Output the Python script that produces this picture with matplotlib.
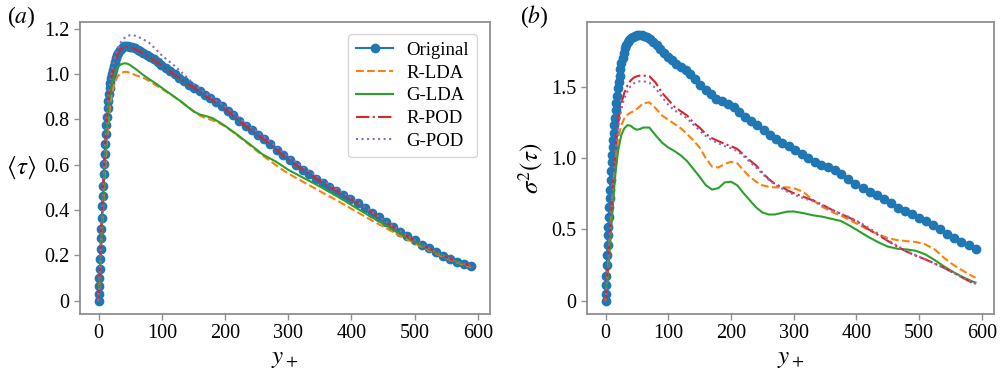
import matplotlib
matplotlib.use("Agg")
import matplotlib.pyplot as plt
from matplotlib.ticker import FuncFormatter, MultipleLocator

plt.rcParams['font.family'] = ['Liberation Serif', 'DejaVu Serif']
plt.rcParams['mathtext.fontset'] = 'stix'

# ---------------- data ----------------
yplus_orig = [0, 0.4, 0.9, 1.4, 2.0, 2.6, 3.2, 3.8, 4.4, 5.1, 5.8, 6.5, 7.2, 8.0, 8.8, 9.6,
              10.4, 11.3, 12.2, 13.1, 14.1, 15.1, 16.2, 17.3, 18.5, 19.7, 21.0, 22.4, 23.9,
              25.5, 27.2, 29.0, 31.0, 33.1, 35.4, 37.9, 40.6, 43.5, 46.6, 50.0, 53.6, 57.5,
              61.7, 66.2, 71.0, 76.1, 81.5, 87.2, 93.2, 99.5, 106.1, 113.0, 120.2, 127.7,
              135.4, 143.3, 151.4, 159.7, 168.2, 176.9, 185.8, 194.9, 204.1, 213.4, 222.9,
              232.5, 242.2, 252.0, 261.9, 271.9, 282.0, 292.2, 302.5, 312.8, 323.2, 333.7,
              344.2, 354.8, 365.4, 376.1, 387.4, 398.6, 409.9, 421.2, 432.4, 443.7, 454.9,
              466.2, 477.5, 488.7, 500.0, 511.3, 522.5, 533.8, 545.0, 556.3, 567.6, 578.8, 590.0]

tau_orig = [0, 0.028, 0.063, 0.098, 0.14, 0.185, 0.23, 0.275, 0.318, 0.367, 0.416, 0.463,
            0.508, 0.56, 0.605, 0.648, 0.69, 0.735, 0.777, 0.812, 0.85, 0.883, 0.912, 0.938,
            0.963, 0.982, 1.0, 1.02, 1.037, 1.053, 1.07, 1.083, 1.095, 1.105, 1.113, 1.119,
            1.123, 1.125, 1.125, 1.122,
            1.119, 1.114, 1.108, 1.101, 1.093, 1.085, 1.075, 1.065, 1.054, 1.041,
            1.029, 1.015, 1.0, 0.983, 0.968, 0.954, 0.94, 0.926, 0.909, 0.893,
            0.876, 0.858, 0.839, 0.818, 0.795, 0.772, 0.753, 0.733, 0.713, 0.691,
            0.667, 0.643, 0.619, 0.6, 0.579, 0.559, 0.539, 0.52, 0.502, 0.484,
            0.466, 0.449, 0.43, 0.41, 0.389, 0.368, 0.346, 0.325, 0.304, 0.285,
            0.266, 0.248, 0.231, 0.215, 0.199, 0.185, 0.173, 0.163, 0.155]

var_orig = [0, 0.05, 0.112, 0.175, 0.25, 0.32, 0.39, 0.46, 0.52, 0.59,
            0.66, 0.72, 0.78, 0.85, 0.91, 0.97, 1.025, 1.08, 1.13, 1.18,
            1.235, 1.285, 1.34, 1.39, 1.44, 1.49, 1.535, 1.58, 1.625, 1.665,
            1.705, 1.74, 1.77, 1.793, 1.813, 1.828, 1.842, 1.853, 1.859, 1.863,
            1.863, 1.862, 1.859, 1.853, 1.838, 1.818, 1.793, 1.765, 1.737, 1.712,
            1.688, 1.662, 1.64, 1.617, 1.59, 1.556, 1.515, 1.48, 1.452, 1.418,
            1.40, 1.382, 1.358, 1.327, 1.29, 1.258, 1.232, 1.20, 1.165, 1.135,
            1.11, 1.088, 1.06, 1.03, 1.0, 0.975, 0.955, 0.935, 0.915, 0.89,
            0.855, 0.818, 0.792, 0.766, 0.74, 0.713, 0.684, 0.653, 0.626, 0.607,
            0.58, 0.558, 0.53, 0.50, 0.468, 0.44, 0.413, 0.39, 0.36]

yplus_model = [0, 2, 4, 6, 8, 10, 13, 16, 20, 25, 30, 35, 40, 45, 50, 55, 60, 70, 80, 90,
               100, 110, 120, 130, 140, 150, 160, 170, 180, 190, 200, 210, 220, 230, 240,
               250, 260, 270, 280, 290, 300, 315, 330, 345, 360, 375, 390, 405, 420, 435,
               450, 465, 480, 495, 510, 525, 540, 555, 570, 585, 590]

tau_rlda = [0, 0.11, 0.23, 0.35, 0.46, 0.56, 0.7, 0.81, 0.9, 0.96, 0.99, 1.005, 1.01, 1.01,
            1.006, 1.0, 0.994, 0.985, 0.97, 0.952,
            0.935, 0.917, 0.9, 0.88, 0.858, 0.838, 0.818, 0.805, 0.797, 0.785, 0.77, 0.75,
            0.729, 0.707, 0.685, 0.662, 0.64, 0.62, 0.6, 0.58, 0.562,
            0.538, 0.515, 0.492, 0.468, 0.446, 0.422, 0.398, 0.374, 0.35, 0.328, 0.305,
            0.282, 0.261, 0.24, 0.22, 0.2, 0.182, 0.166, 0.152, 0.148]
tau_glda = [0, 0.12, 0.25, 0.38, 0.5, 0.61, 0.75, 0.86, 0.95, 1.0, 1.03, 1.043, 1.048, 1.047,
            1.04, 1.03, 1.02, 0.998, 0.978, 0.96,
            0.94, 0.92, 0.9, 0.88, 0.858, 0.836, 0.822, 0.815, 0.806, 0.79, 0.772, 0.752,
            0.732, 0.71, 0.689, 0.667, 0.645, 0.63, 0.615, 0.597, 0.578,
            0.556, 0.534, 0.512, 0.489, 0.465, 0.44, 0.414, 0.389, 0.364, 0.34, 0.315,
            0.29, 0.267, 0.245, 0.224, 0.204, 0.186, 0.17, 0.156, 0.152]
tau_rpod = [0, 0.14, 0.29, 0.43, 0.56, 0.67, 0.81, 0.905, 0.982, 1.045, 1.087, 1.11, 1.12,
            1.122, 1.12, 1.115, 1.108, 1.093, 1.076, 1.058,
            1.038, 1.02, 0.998, 0.977, 0.958, 0.941, 0.923, 0.904, 0.886, 0.866, 0.847,
            0.825, 0.801, 0.776, 0.756, 0.736, 0.716, 0.694, 0.671, 0.647, 0.623,
            0.594, 0.566, 0.538, 0.511, 0.487, 0.463, 0.439, 0.413, 0.385, 0.356, 0.328,
            0.3, 0.274, 0.25, 0.227, 0.205, 0.186, 0.17, 0.157, 0.153]
tau_gpod = [0, 0.14, 0.29, 0.43, 0.56, 0.675, 0.815, 0.915, 0.998, 1.065, 1.11, 1.14, 1.158,
            1.168, 1.172, 1.172, 1.168, 1.155, 1.138, 1.112,
            1.083, 1.06, 1.037, 1.012, 0.985, 0.958, 0.935, 0.914, 0.895, 0.876, 0.857,
            0.836, 0.813, 0.789, 0.768, 0.747, 0.727, 0.705, 0.682, 0.659, 0.635,
            0.606, 0.578, 0.549, 0.521, 0.495, 0.47, 0.444, 0.416, 0.387, 0.358, 0.33,
            0.302, 0.276, 0.251, 0.228, 0.206, 0.186, 0.17, 0.156, 0.153]

var_rlda = [0, 0.1, 0.22, 0.36, 0.5, 0.64, 0.82, 0.98, 1.13, 1.23, 1.28, 1.305, 1.32, 1.33,
            1.345, 1.365, 1.385, 1.392, 1.35, 1.3,
            1.27, 1.24, 1.21, 1.17, 1.125, 1.075, 1.0, 0.94, 0.935, 0.96, 0.975, 0.965,
            0.915, 0.87, 0.835, 0.81, 0.8, 0.795, 0.795, 0.795, 0.79,
            0.765, 0.71, 0.66, 0.625, 0.597, 0.565, 0.53, 0.495, 0.465, 0.44, 0.425,
            0.418, 0.412, 0.395, 0.36, 0.3, 0.25, 0.21, 0.172, 0.162]
var_glda = [0, 0.09, 0.2, 0.32, 0.44, 0.56, 0.74, 0.9, 1.05, 1.16, 1.21, 1.232, 1.228, 1.21,
            1.2, 1.205, 1.215, 1.215, 1.16, 1.11,
            1.075, 1.05, 1.02, 0.98, 0.925, 0.87, 0.81, 0.78, 0.79, 0.83, 0.835, 0.81,
            0.755, 0.705, 0.655, 0.62, 0.605, 0.605, 0.615, 0.625, 0.626,
            0.615, 0.6, 0.59, 0.575, 0.56, 0.525, 0.485, 0.445, 0.41, 0.38, 0.365,
            0.36, 0.35, 0.325, 0.285, 0.24, 0.2, 0.165, 0.135, 0.127]
var_rpod = [0, 0.12, 0.26, 0.4, 0.55, 0.7, 0.9, 1.08, 1.25, 1.38, 1.46, 1.51, 1.545, 1.565,
            1.575, 1.58, 1.58, 1.575, 1.53, 1.46,
            1.41, 1.36, 1.33, 1.3, 1.25, 1.215, 1.17, 1.14, 1.12, 1.1, 1.085, 1.065,
            1.025, 0.985, 0.95, 0.9, 0.855, 0.82, 0.8, 0.775, 0.755,
            0.73, 0.705, 0.675, 0.64, 0.61, 0.58, 0.545, 0.5, 0.46, 0.42, 0.38,
            0.345, 0.315, 0.29, 0.26, 0.23, 0.195, 0.16, 0.125, 0.118]
var_gpod = [0, 0.12, 0.26, 0.4, 0.55, 0.69, 0.88, 1.05, 1.21, 1.34, 1.42, 1.47, 1.505, 1.525,
            1.535, 1.54, 1.54, 1.53, 1.49, 1.43,
            1.375, 1.335, 1.31, 1.28, 1.235, 1.195, 1.155, 1.125, 1.105, 1.085, 1.07, 1.05,
            1.015, 0.975, 0.935, 0.89, 0.85, 0.815, 0.79, 0.765, 0.745,
            0.72, 0.70, 0.67, 0.64, 0.61, 0.585, 0.55, 0.51, 0.47, 0.425, 0.385,
            0.35, 0.318, 0.29, 0.26, 0.23, 0.195, 0.16, 0.127, 0.12]

labels = ['Original', 'R-LDA', 'G-LDA', 'R-POD', 'G-POD']
xticks = [0, 100, 200, 300, 400, 500, 600]

# ---------------- figure ----------------
fig = plt.figure(figsize=(10.06, 3.76), dpi=100)
axL = fig.add_axes([0.0795, 0.165, 0.4076, 0.7766])
axR = fig.add_axes([0.5835, 0.165, 0.4046, 0.7766])

frame_col = '#8f8f8f'
fmt = FuncFormatter(lambda v, p: '0' if abs(v) < 1e-9 else f'{v:.1f}')


def draw(ax, yo, rlda, glda, rpod, gpod):
    ax.plot(yplus_orig, yo, '-o', color='#1f77b4', ms=6, lw=1.5, label=labels[0])
    ax.plot(yplus_model, rlda, '--', color='#ff7f0e', lw=1.5, label=labels[1])
    ax.plot(yplus_model, glda, '-', color='#2ca02c', lw=1.5, label=labels[2])
    ax.plot(yplus_model, rpod, '-.', color='#d62728', lw=1.5, label=labels[3])
    ax.plot(yplus_model, gpod, ':', color='#9467bd', lw=1.5, label=labels[4])
    ax.set_xticks(xticks)
    ax.yaxis.set_major_formatter(fmt)
    for s in ax.spines.values():
        s.set_color(frame_col)
        s.set_linewidth(1.3)
    ax.tick_params(direction='out', length=4, width=1, color=frame_col,
                   labelsize=14.5, labelcolor='black')
    ax.set_xlabel('$y_+$', fontsize=18, labelpad=3)


draw(axL, tau_orig, tau_rlda, tau_glda, tau_rpod, tau_gpod)
draw(axR, var_orig, var_rlda, var_glda, var_rpod, var_gpod)

axL.yaxis.set_major_locator(MultipleLocator(0.2))
axR.yaxis.set_major_locator(MultipleLocator(0.5))

axL.set_ylabel(r'$\langle\tau\rangle$', fontsize=18, rotation=0, va='center', ha='center')
axL.yaxis.set_label_coords(-0.143, 0.5)
axR.set_ylabel(r'$\sigma^2(\tau)$', fontsize=18, labelpad=4)

leg = axL.legend(loc='upper right', fontsize=13.5, handlelength=2.0,
                 borderpad=0.4, labelspacing=0.3, handletextpad=0.7,
                 bbox_to_anchor=(0.99, 0.99))

fig.text(0.007, 0.955, '($a$)', fontsize=17, ha='left', va='center')
fig.text(0.517, 0.955, '($b$)', fontsize=17, ha='left', va='center')

fig.savefig('out.png', dpi=100)
